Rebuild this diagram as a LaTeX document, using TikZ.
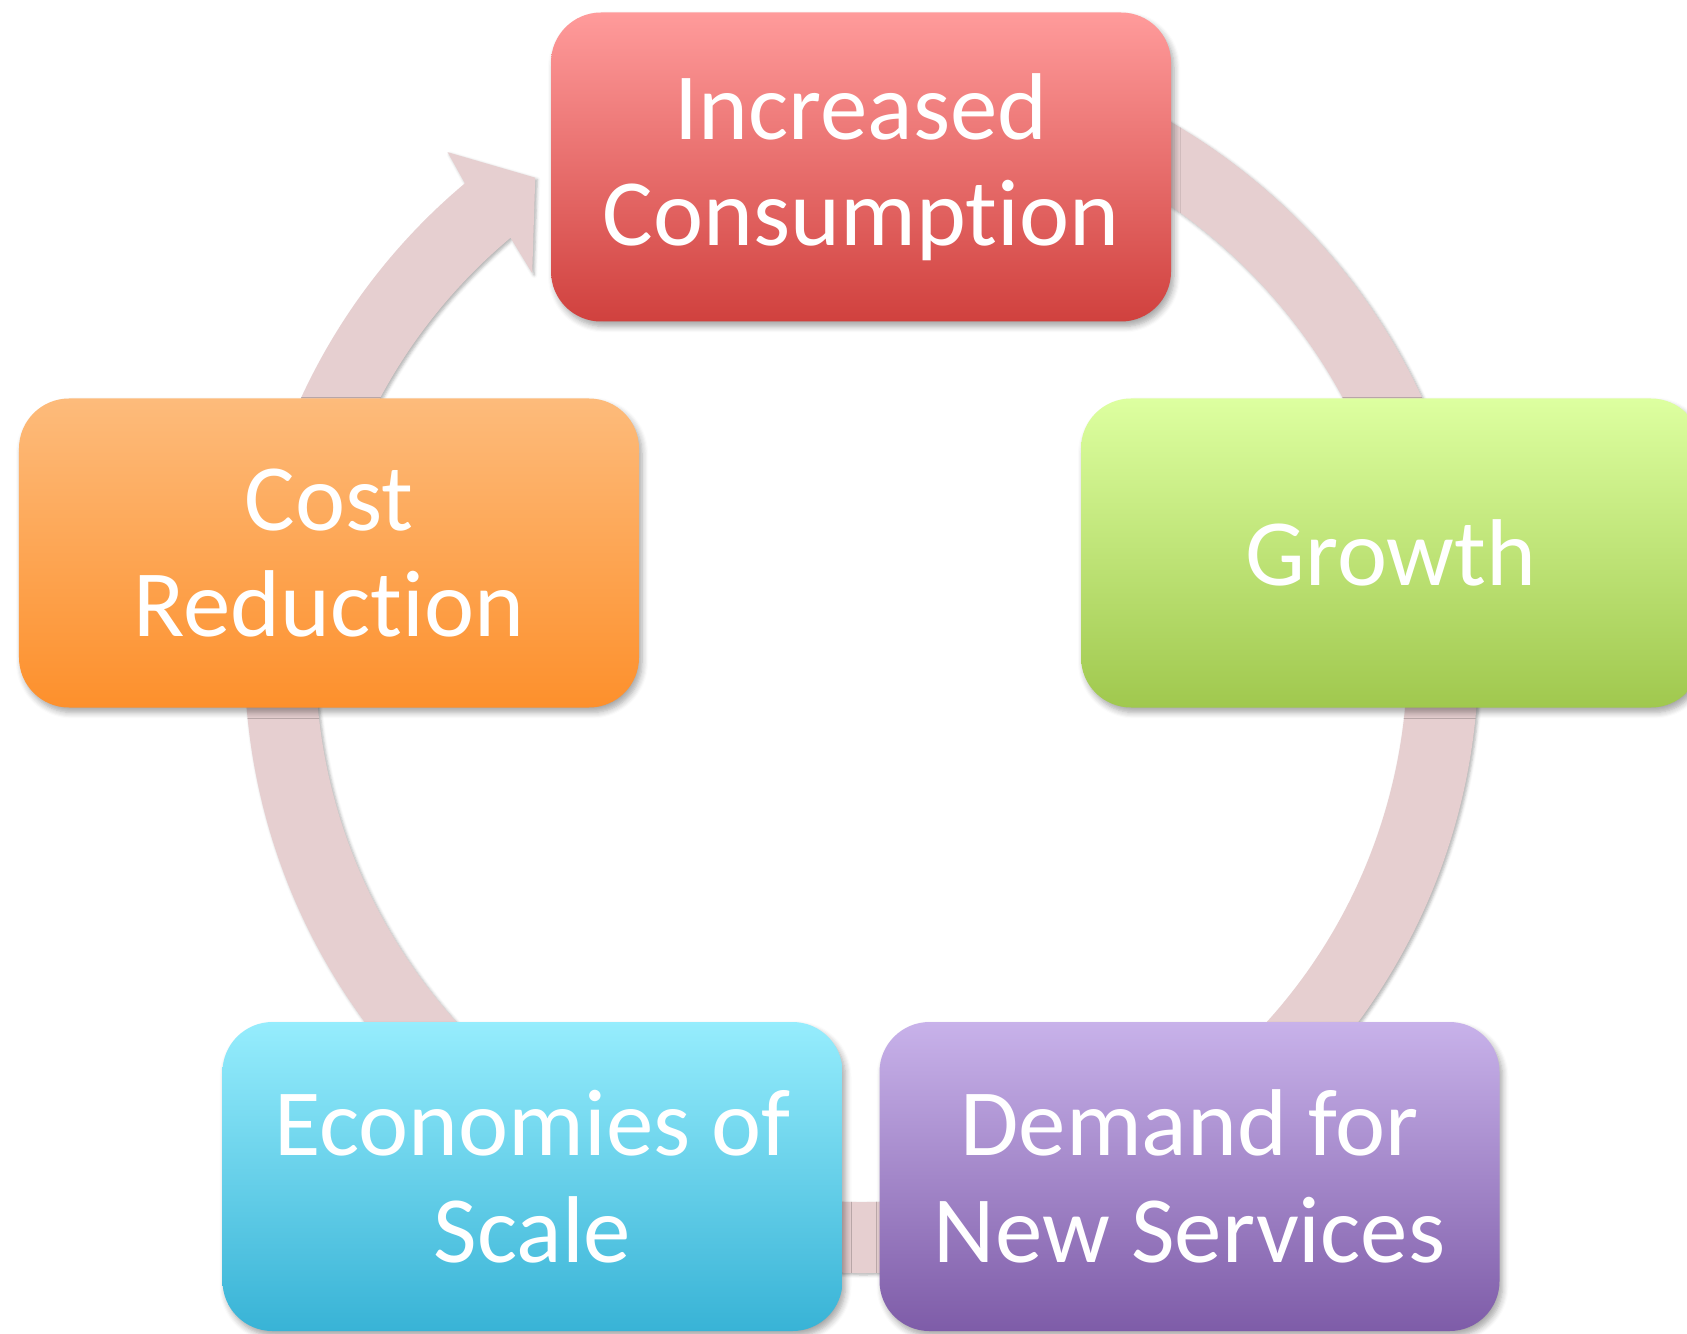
\documentclass[tikz,border=0pt]{standalone}
\usepackage{fontspec}
\setmainfont{Carlito}[Ligatures=NoCommon]
\usetikzlibrary{shadows.blur}

\definecolor{ringpink}{HTML}{E6CFD0}
\definecolor{incTop}{HTML}{FF9B9B}
\definecolor{incBot}{HTML}{D0413E}
\definecolor{growTop}{HTML}{DDFFA0}
\definecolor{growBot}{HTML}{A0C84E}
\definecolor{demTop}{HTML}{C8B2EA}
\definecolor{demBot}{HTML}{7E5CA8}
\definecolor{econTop}{HTML}{96EDFD}
\definecolor{econBot}{HTML}{38B3D6}
\definecolor{costTop}{HTML}{FDBB7B}
\definecolor{costBot}{HTML}{FD902C}

\begin{document}
\begin{tikzpicture}[
        box/.style={rectangle, rounded corners=0.5cm, minimum width=6.2cm, minimum height=3.09cm,
            align=center, text=white, font=\fontsize{27}{30.3}\selectfont,
            blur shadow={shadow xshift=0.03cm, shadow yshift=-0.05cm, shadow blur radius=0.06cm,
                shadow blur steps=6, shadow opacity=35}},
        ring/.style={fill=ringpink,
            blur shadow={shadow xshift=0.02cm, shadow yshift=-0.02cm, shadow blur radius=0.03cm,
                shadow blur steps=4, shadow opacity=30}}
    ]
        \useasboundingbox (0,0) rectangle (16.87,13.33);
        \coordinate (ctr) at (8.615,6.77);
        \fill[ring, shift={(ctr)}]
            (90:6.17) arc[start angle=90, end angle=-230, radius=6.17]
            -- (129.4:6.52) -- (124.3:5.79) -- (130.7:5.05) -- (130:5.46)
            arc[start angle=-230, end angle=90, radius=5.46] -- cycle;

        \node[box, top color=incTop,  bottom color=incBot]  (inc)  at (8.61, 11.66)  {Increased\\Consumption};
        \node[box, top color=growTop, bottom color=growBot] (grow) at (13.91, 7.80)  {Growth};
        \node[box, top color=demTop,  bottom color=demBot]  (dem)  at (11.895, 1.565) {Demand for\\New Services};
        \node[box, top color=econTop, bottom color=econBot] (econ) at (5.325, 1.565) {Economies of\\Scale};
        \node[box, top color=costTop, bottom color=costBot] (cost) at (3.29, 7.80)   {Cost\\Reduction};
    \end{tikzpicture}
\end{document}
